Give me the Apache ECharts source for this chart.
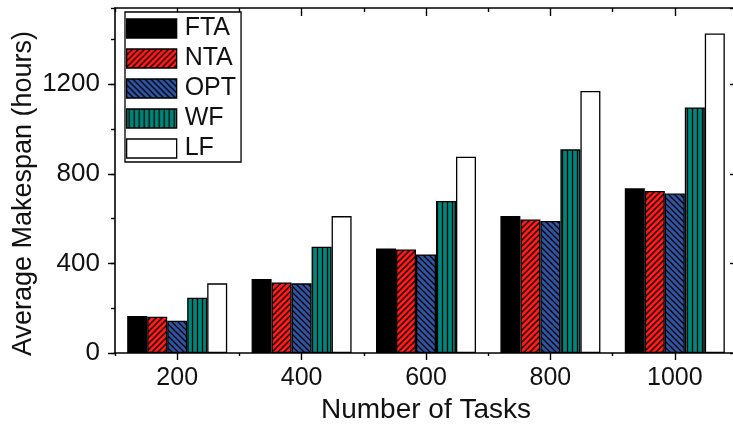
<!DOCTYPE html>
<html>
<head>
<meta charset="utf-8">
<script src="https://cdn.jsdelivr.net/npm/echarts@6/dist/echarts.min.js"></script>
<style>
  html, body { margin: 0; padding: 0; background: #fff; }
  #chart { width: 733px; height: 425px; }
</style>
</head>
<body>
<div id="chart"></div>
<script>
// Average makespan (hours) per scheduling strategy and task count
const categories = ['200', '400', '600', '800', '1000'];
const seriesNames = ['FTA', 'NTA', 'OPT', 'WF', 'LF'];
const ftaValues = [165, 330, 466, 611, 735];
const ntaValues = [162, 315, 462, 596, 723];
const optValues = [144, 311, 440, 589, 712];
const wfValues  = [247, 474, 679, 909, 1096];
const lfValues  = [311, 611, 876, 1170, 1426];

const FONT = '"Liberation Sans", Arial, sans-serif';
const INK = '#111';

// Hatched fills drawn into small repeating canvas tiles
function hatch(bg, kind) {
  const w = kind === 'vertical' ? 5 : 6;
  const h = 6;
  const c = document.createElement('canvas');
  c.width = w; c.height = h;
  const g = c.getContext('2d');
  g.fillStyle = bg;
  g.fillRect(0, 0, w, h);
  g.strokeStyle = '#000';
  g.lineWidth = 1.3;
  g.beginPath();
  if (kind === 'vertical') {
    g.moveTo(2.5, 0); g.lineTo(2.5, h);
  } else if (kind === 'up') {
    g.moveTo(-1, h + 1); g.lineTo(w + 1, -1);
    g.moveTo(-1, 1); g.lineTo(1, -1);
    g.moveTo(w - 1, h + 1); g.lineTo(w + 1, h - 1);
  } else {
    g.moveTo(-1, -1); g.lineTo(w + 1, h + 1);
    g.moveTo(w - 1, -1); g.lineTo(w + 1, 1);
    g.moveTo(-1, h - 1); g.lineTo(1, h + 1);
  }
  g.stroke();
  return { image: c, repeat: 'repeat' };
}

const fills = [
  '#000000',
  hatch('#ff1a1a', 'up'),
  hatch('#2f55a4', 'down'),
  hatch('#00877c', 'vertical'),
  '#ffffff'
];
const valueSets = [ftaValues, ntaValues, optValues, wfValues, lfValues];

const chart = echarts.init(document.getElementById('chart'), null, { renderer: 'canvas' });

const axisLine = { show: true, onZero: false, lineStyle: { color: '#000', width: 1.6 } };
const hidden = { show: false };

const option = {
  animation: false,
  backgroundColor: '#fff',
  grid: { left: 115, right: -4, top: 8, bottom: 72, containLabel: false, outerBoundsMode: 'none' },
  legend: {
    orient: 'vertical',
    left: 125,
    top: 12,
    icon: 'rect',
    itemWidth: 50,
    itemHeight: 19,
    itemGap: 5,
    padding: [4, 5, 1, 1],
    backgroundColor: '#fff',
    borderColor: '#000',
    borderWidth: 1.3,
    textStyle: { fontFamily: FONT, fontSize: 25, color: INK, padding: [0, 0, 0, 3] },
    data: seriesNames.map((n, i) => ({
      name: n,
      itemStyle: { color: fills[i], borderColor: '#000', borderWidth: 1.3 }
    }))
  },
  xAxis: [
    {
      type: 'category', position: 'bottom', data: categories,
      axisLine: axisLine,
      axisTick: { show: true, alignWithLabel: true, length: 7, lineStyle: { color: '#000', width: 1.4 } },
      axisLabel: { fontFamily: FONT, fontSize: 25, color: INK, margin: 13 },
      splitLine: hidden,
      name: 'Number of Tasks', nameLocation: 'middle', nameGap: 43,
      nameTextStyle: { fontFamily: FONT, fontSize: 28, color: INK }
    },
    {
      type: 'category', position: 'bottom', data: categories,
      axisLine: { show: false, onZero: false },
      axisTick: { show: true, alignWithLabel: false, length: 3, lineStyle: { color: '#000', width: 1.4 } },
      axisLabel: hidden, splitLine: hidden
    },
    {
      type: 'category', position: 'top', data: categories,
      axisLine: axisLine,
      axisTick: { show: true, inside: true, alignWithLabel: true, length: 8, lineStyle: { color: '#000', width: 1.4 } },
      axisLabel: hidden, splitLine: hidden
    },
    {
      type: 'category', position: 'top', data: categories,
      axisLine: { show: false, onZero: false },
      axisTick: { show: true, inside: true, alignWithLabel: false, length: 4, lineStyle: { color: '#000', width: 1.4 } },
      axisLabel: hidden, splitLine: hidden
    }
  ],
  yAxis: [
    {
      type: 'value', position: 'left', min: 0, max: 1540, interval: 400,
      axisLine: axisLine,
      axisTick: { show: true, length: 7, lineStyle: { color: '#000', width: 1.4 } },
      axisLabel: { fontFamily: FONT, fontSize: 26, color: INK, margin: 15, showMaxLabel: false,
                   formatter: v => String(v) },
      splitLine: hidden,
      name: 'Average Makespan (hours)', nameLocation: 'middle', nameGap: 78, nameRotate: 90,
      nameMoveOverlap: false,
      nameTextStyle: { fontFamily: FONT, fontSize: 27, color: INK, padding: [0, 26, 0, 0] }
    },
    {
      type: 'value', position: 'left', min: 0, max: 1540, interval: 200,
      axisLine: { show: false, onZero: false },
      axisTick: { show: true, length: 4, lineStyle: { color: '#000', width: 1.4 } },
      axisLabel: hidden, splitLine: hidden
    },
    {
      type: 'value', position: 'right', min: 0, max: 1540, interval: 400,
      axisLine: axisLine,
      axisTick: { show: true, inside: true, length: 7, lineStyle: { color: '#000', width: 1.4 } },
      axisLabel: hidden, splitLine: hidden
    },
    {
      type: 'value', position: 'right', min: 0, max: 1540, interval: 200,
      axisLine: { show: false, onZero: false },
      axisTick: { show: true, inside: true, length: 4, lineStyle: { color: '#000', width: 1.4 } },
      axisLabel: hidden, splitLine: hidden
    }
  ],
  series: seriesNames.map((n, i) => ({
    name: n,
    type: 'bar',
    xAxisIndex: 0,
    yAxisIndex: 0,
    data: valueSets[i],
    barWidth: 20,
    barGap: '0%',
    itemStyle: { color: fills[i], borderColor: '#000', borderWidth: 1.3 },
    emphasis: { disabled: true }
  }))
};

chart.setOption(option);
</script>
</body>
</html>
